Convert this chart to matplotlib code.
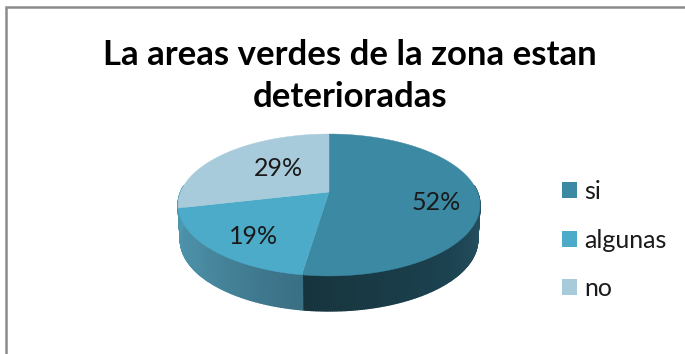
import numpy as np
import matplotlib
matplotlib.use("Agg")
import matplotlib.pyplot as plt
from matplotlib.colors import LinearSegmentedColormap
from matplotlib.patches import Patch

plt.rcParams['font.family'] = ['Lato', 'DejaVu Sans']

# data
categories = ["si", "algunas", "no"]
values = [52.4, 19.0, 28.6]
colors = ["#3b89a3", "#4babc8", "#a8cbdb"]
title_lines = ["La areas verdes de la zona estan", "deterioradas"]
# label centres in image pixels
label_x = [436, 254, 278]
label_y = [203, 236, 169]

# pie geometry in image pixels, with perspective
apex_x, apex_y = 329, 192
k = 0.183
rx, ry = 148.4, 68.6
depth = 35


def rim(theta, scale=1.0, drop=0.0):
    # theta is clockwise from the top
    u, v = np.sin(theta), np.cos(theta)
    d = 1 + k * v
    return apex_x + scale * rx * u / d, apex_y - ry * v / d + drop


fig = plt.figure(figsize=(6.85, 3.54), dpi=100)
ax = fig.add_axes([0, 0, 1, 1])
ax.set_xlim(0, 685)
ax.set_ylim(354, 0)
ax.axis("off")

# chart frame, only top and left show
ax.plot([6, 6, 685], [354, 7, 7], color="#8c8c8c", lw=1.8, solid_joinstyle="miter")

# side wall
fracs = np.array(values) / sum(values)
edges = np.concatenate([[0], np.cumsum(fracs)]) * 2 * np.pi
wall_a = LinearSegmentedColormap.from_list("a", ["#17343d", "#1c4250", "#2b5a6c"])
wall_b = LinearSegmentedColormap.from_list("b", ["#3a6f84", "#4a8ca3", "#4d9ab3"])

ts = np.linspace(np.pi * 0.47, np.pi * 1.53, 260)
for t0, t1 in zip(ts[:-1], ts[1:]):
    x0, y0 = rim(t0)
    x1, y1 = rim(t1)
    x2, y2 = rim(t1, 0.985, depth)
    x3, y3 = rim(t0, 0.985, depth)
    tm = (t0 + t1) / 2
    if tm < edges[1]:
        c = wall_a((edges[1] - tm) / (edges[1] - ts[0]))
    else:
        c = wall_b((tm - edges[1]) / (ts[-1] - edges[1]))
    ax.fill([x0, x1, x2, x3], [y0, y1, y2, y3], color=c, lw=1.0)

# top of the pie
for i in range(len(values)):
    th = np.linspace(edges[i], edges[i + 1], 120)
    xs, ys = rim(th)
    ax.fill(np.r_[apex_x, xs], np.r_[apex_y, ys], color=colors[i], lw=0.3)

# percentage labels
for i, val in enumerate(values):
    ax.text(label_x[i], label_y[i], "%d%%" % round(val), fontsize=18, color="#1a1a1a",
            ha="center", va="center")

ax.text(350, 55, title_lines[0], fontsize=25, fontweight="bold", color="black",
        ha="center", va="center")
ax.text(350, 97, title_lines[1], fontsize=25, fontweight="bold", color="black",
        ha="center", va="center")

handles = [Patch(facecolor=c, edgecolor="none") for c in colors]
ax.legend(handles, categories, loc="center left", bbox_to_anchor=(539 / 685, 1 - 240 / 354),
          frameon=False, fontsize=18, handlelength=0.6, handleheight=0.6,
          handletextpad=0.3, labelspacing=1.02, labelcolor="#1a1a1a")

fig.savefig("out.png", dpi=100)
